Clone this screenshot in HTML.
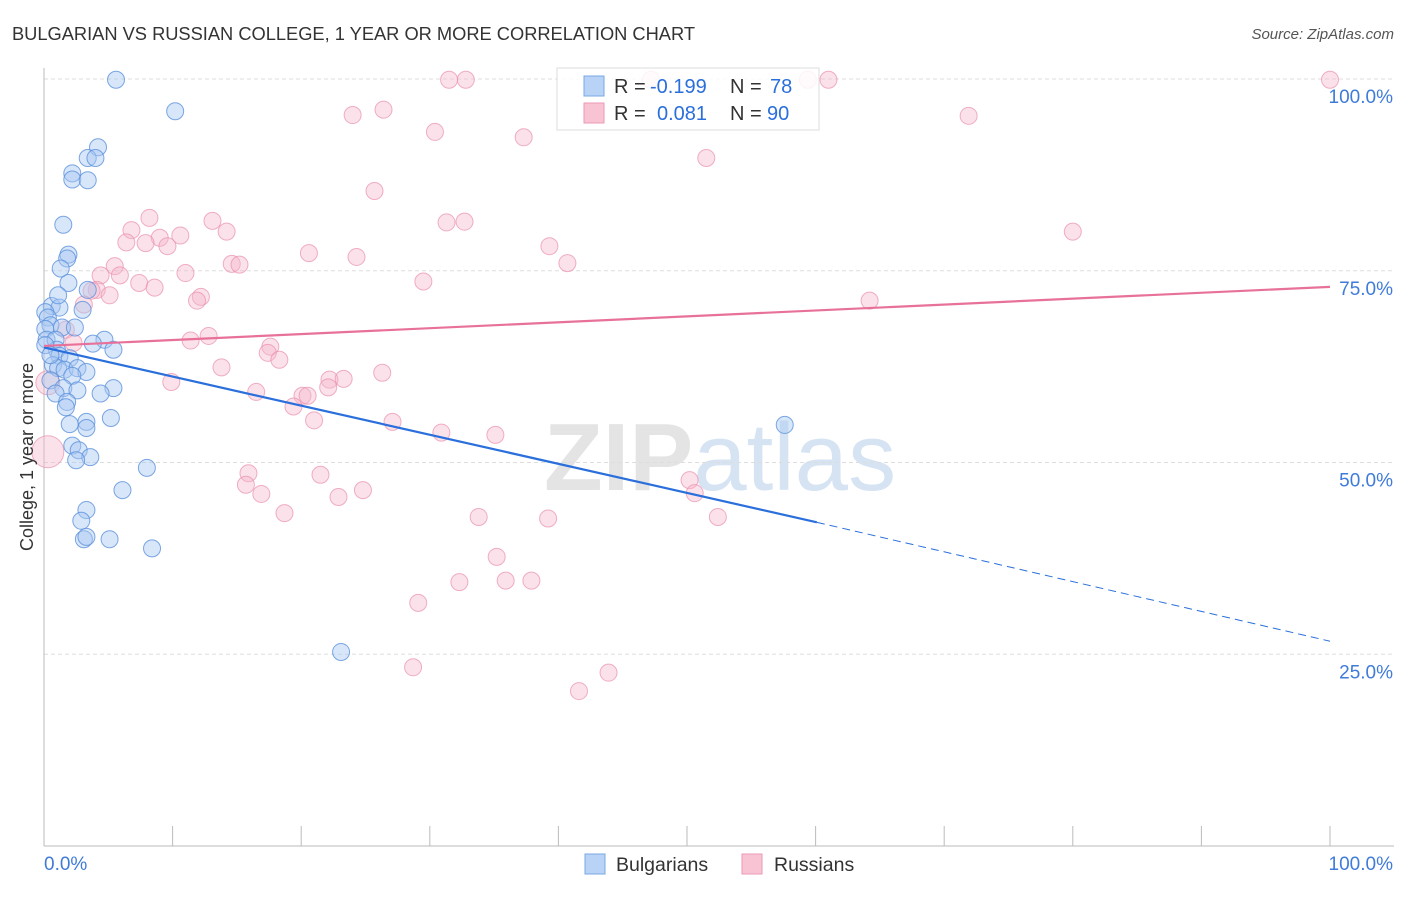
<!DOCTYPE html>
<html><head><meta charset="utf-8"><style>
body{margin:0;background:#fff;font-family:"Liberation Sans",sans-serif}
svg text{font-family:"Liberation Sans",sans-serif}
</style></head><body>
<svg id="chart" width="1406" height="892" xmlns="http://www.w3.org/2000/svg">
<text x="12" y="40" font-size="18.3" fill="#333" textLength="683">BULGARIAN VS RUSSIAN COLLEGE, 1 YEAR OR MORE CORRELATION CHART</text>
<text x="1394" y="39" font-size="15" fill="#555" text-anchor="end" font-style="italic">Source: ZipAtlas.com</text>
<text x="720" y="490" font-size="96" text-anchor="middle" fill="#e4e4e4" font-weight="bold">ZIP<tspan fill="#d5e3f3" font-weight="normal">atlas</tspan></text>
<g id="grid"></g>
<g id="axes"></g>
<g id="pts"></g>
<g id="trends"></g>
<g>
<rect x="557" y="68" width="262" height="62" fill="#fff" fill-opacity="0.85" stroke="#ddd"/>
<rect x="584" y="76" width="20" height="20" fill="#b8d3f5" stroke="#7aa7e3"/>
<rect x="584" y="103" width="20" height="20" fill="#f8c4d4" stroke="#ec9ab5"/>
<text x="614" y="93" font-size="20" fill="#333">R = <tspan x="650" fill="#2a6fdb">-0.199</tspan></text>
<text x="730" y="93" font-size="20" fill="#333">N = <tspan x="770" fill="#2a6fdb">78</tspan></text>
<text x="614" y="120" font-size="20" fill="#333">R = <tspan x="657" fill="#2a6fdb">0.081</tspan></text>
<text x="730" y="120" font-size="20" fill="#333">N = <tspan x="767" fill="#2a6fdb">90</tspan></text>
</g>
<g>
<rect x="585" y="854" width="20" height="20" fill="#b8d3f5" stroke="#7aa7e3"/>
<text x="616" y="871" font-size="19.5" fill="#333">Bulgarians</text>
<rect x="742" y="854" width="20" height="20" fill="#f8c4d4" stroke="#ec9ab5"/>
<text x="774" y="871" font-size="19.5" fill="#333">Russians</text>
</g>
<text transform="translate(33,457) rotate(-90)" font-size="18" fill="#333" text-anchor="middle">College, 1 year or more</text>
</svg>
<script>
const yTicks=[25,50,75,100];
const yTickLabels=["25.0%","50.0%","75.0%","100.0%"];
const xTickLabels=["0.0%","100.0%"];
const bulgarians=[[5.6,99.9],[10.2,95.8],[4.2,91.1],[3.4,89.7],[4.0,89.7],[2.2,87.7],[2.2,86.9],[3.4,86.8],[1.5,81.0],[1.9,77.1],[1.8,76.6],[1.3,75.3],[1.9,73.4],[0.6,70.4],[1.2,70.2],[0.1,69.6],[0.3,68.9],[0.5,67.9],[0.1,67.4],[1.4,67.6],[2.4,67.6],[0.2,66.0],[0.9,66.0],[4.7,66.0],[3.8,65.5],[5.4,64.7],[1.0,64.7],[1.2,63.9],[2.0,63.6],[0.7,62.7],[1.1,62.3],[1.6,62.1],[2.6,62.3],[3.3,61.8],[2.2,61.3],[0.5,60.7],[1.5,59.7],[2.6,59.4],[5.4,59.7],[4.4,59.0],[0.9,59.0],[1.8,57.9],[1.7,57.2],[5.2,55.8],[3.3,55.3],[3.3,54.5],[2.0,55.0],[2.2,52.2],[2.7,51.6],[3.6,50.7],[2.5,50.3],[8.0,49.3],[6.1,46.4],[3.3,43.8],[2.9,42.4],[3.1,40.0],[3.3,40.3],[5.1,40.0],[8.4,38.8],[23.1,25.3],[57.6,54.9],[3.4,72.5],[3.0,69.9],[1.1,71.8],[0.1,65.3],[0.5,64.0]];
const russians=[[100,99.9],[61.0,99.9],[59.4,99.9],[47.2,99.9],[32.8,99.9],[31.5,99.9],[26.4,96.0],[24.0,95.3],[71.9,95.2],[30.4,93.1],[37.3,92.4],[51.5,89.7],[25.7,85.4],[8.2,81.9],[13.1,81.5],[31.3,81.3],[32.7,81.4],[80.0,80.1],[6.8,80.3],[14.2,80.1],[10.6,79.6],[9.0,79.3],[6.4,78.7],[7.9,78.6],[9.6,78.2],[39.3,78.2],[20.6,77.3],[24.3,76.8],[14.6,75.9],[15.2,75.8],[40.7,76.0],[5.5,75.6],[4.4,74.4],[5.9,74.4],[11.0,74.7],[7.4,73.4],[29.5,73.6],[8.6,72.8],[4.1,72.5],[3.7,72.4],[12.2,71.6],[11.9,71.1],[5.1,71.8],[64.2,71.1],[3.1,70.6],[12.8,66.5],[11.4,65.9],[1.7,67.3],[2.3,65.6],[17.6,65.1],[17.4,64.3],[18.3,63.4],[13.8,62.4],[26.3,61.7],[9.9,60.5],[22.2,60.8],[23.3,60.9],[22.1,59.8],[16.5,59.2],[20.1,58.7],[20.5,58.7],[19.4,57.3],[21.0,55.5],[27.1,55.3],[30.9,53.9],[35.1,53.6],[21.5,48.4],[15.9,48.6],[15.7,47.1],[16.9,45.9],[24.8,46.4],[22.9,45.5],[50.2,47.7],[50.6,46.0],[33.8,42.9],[39.2,42.7],[18.7,43.4],[52.4,42.9],[35.2,37.7],[35.9,34.6],[37.9,34.6],[32.3,34.4],[29.1,31.7],[28.7,23.3],[43.9,22.6],[41.6,20.2],[0.3,51.4],[0.3,60.4]];
const bulgTrend=[[0,65.0],[60.1,42.2]];
const bulgDash=[[60.1,42.2],[100,26.7]];
const rusTrend=[[0,65.2],[100,72.9]];
const X0=44,X1=1330,Y0=846,Y100=79;
const sx=v=>X0+(X1-X0)*v/100, sy=v=>Y0-(Y0-Y100)*v/100;
const NS="http://www.w3.org/2000/svg";
function mk(t,a,p){const e=document.createElementNS(NS,t);for(const k in a)e.setAttribute(k,a[k]);p.appendChild(e);return e;}
const grid=document.getElementById('grid'),axes=document.getElementById('axes'),pts=document.getElementById('pts'),tr=document.getElementById('trends');
yTicks.forEach((t,i)=>{
 const l=mk('line',{x1:X0,x2:1394,y1:sy(t),y2:sy(t),stroke:'#ddd','stroke-dasharray':'4,3'},grid);
 
 
 const tx=mk('text',{x:1393,y:sy(t)+24,'font-size':19,fill:'#3f7bd9','text-anchor':'end'},axes);
 tx.textContent=yTickLabels[i];
 
 
});
mk('line',{x1:X0,x2:X0,y1:68,y2:846,stroke:'#bbb'},axes);
mk('line',{x1:X0,x2:1394,y1:846,y2:846,stroke:'#bbb'},axes);
for(let i=0;i<=10;i++){mk('line',{x1:sx(i*10),x2:sx(i*10),y1:826,y2:846,stroke:'#bbb'},axes);}
[[0,'start',44],[100,'end',1393]].forEach((d,i)=>{const t=mk('text',{x:d[2],y:870,'font-size':19,fill:'#3f7bd9','text-anchor':d[1]},axes);t.textContent=xTickLabels[i];
 
 });
russians.forEach((p,i)=>{const c=mk('circle',{cx:sx(p[0]),cy:sy(p[1]),r:(i>=russians.length-2)?(i==russians.length-2?16:12):8.5,fill:'#f6b6ca','fill-opacity':0.4,stroke:'#e98fad','stroke-opacity':0.7},pts);
 
 });
bulgarians.forEach(p=>{const c=mk('circle',{cx:sx(p[0]),cy:sy(p[1]),r:8.5,fill:'#a9c8f1','fill-opacity':0.45,stroke:'#5b91dc','stroke-opacity':0.8},pts);
 
 });
const l1=mk('line',{x1:sx(bulgTrend[0][0]),y1:sy(bulgTrend[0][1]),x2:sx(bulgTrend[1][0]),y2:sy(bulgTrend[1][1]),stroke:'#2a6fdb','stroke-width':2.2},tr);


const l2=mk('line',{x1:sx(bulgDash[0][0]),y1:sy(bulgDash[0][1]),x2:sx(bulgDash[1][0]),y2:sy(bulgDash[1][1]),stroke:'#2a6fdb','stroke-width':1,'stroke-dasharray':'8,5'},tr);


const l3=mk('line',{x1:sx(rusTrend[0][0]),y1:sy(rusTrend[0][1]),x2:sx(rusTrend[1][0]),y2:sy(rusTrend[1][1]),stroke:'#e8719a','stroke-width':2.2},tr);


</script>
</body></html>
